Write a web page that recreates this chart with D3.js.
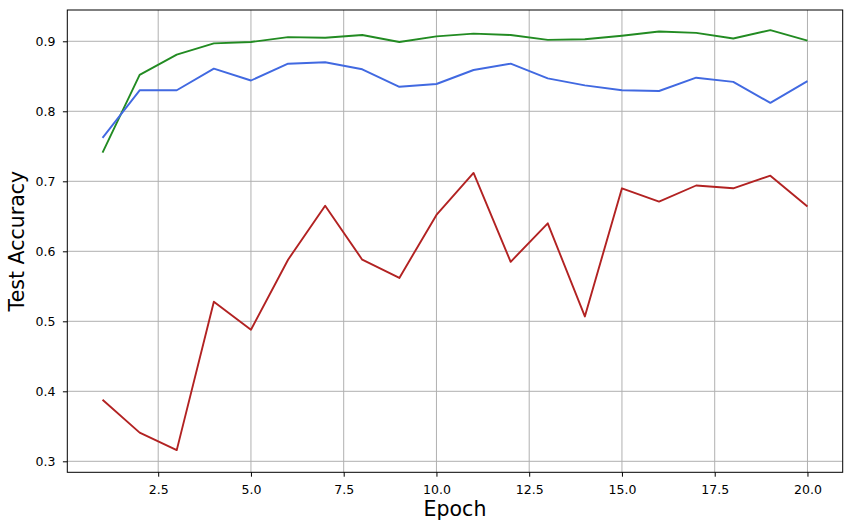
<!DOCTYPE html>
<html>
  <head>
    <meta charset="UTF-8" />
    <script src="https://cdnjs.cloudflare.com/ajax/libs/d3/7.8.5/d3.min.js"></script>
    <style>
      body { margin: 0; background: #fff; }
      text { font-family: "DejaVu Sans", sans-serif; fill: #000; }
      .grid line { stroke: #b0b0b0; stroke-width: 1; }
      .axis path.domain { display: none; }
      .axis line { stroke: #000; }
    </style>
  </head>
  <body>
    <svg width="852" height="531"></svg>
    <script>
      const epochs = d3.range(1, 21);
      const xTicks = [2.5, 5.0, 7.5, 10.0, 12.5, 15.0, 17.5, 20.0];
      const yTicks = [0.3, 0.4, 0.5, 0.6, 0.7, 0.8, 0.9];

      const greenAcc = [0.741, 0.852, 0.881, 0.897, 0.899, 0.906, 0.905, 0.909, 0.899, 0.907,
                        0.911, 0.909, 0.902, 0.903, 0.908, 0.914, 0.912, 0.904, 0.916, 0.901];
      const blueAcc = [0.762, 0.830, 0.830, 0.861, 0.844, 0.868, 0.870, 0.860, 0.835, 0.839,
                       0.859, 0.868, 0.847, 0.837, 0.830, 0.829, 0.848, 0.842, 0.812, 0.843];
      const redAcc = [0.388, 0.341, 0.316, 0.528, 0.488, 0.588, 0.665, 0.588, 0.562, 0.652,
                      0.712, 0.585, 0.640, 0.507, 0.690, 0.671, 0.694, 0.690, 0.708, 0.664];

      const series = [
        { values: greenAcc, color: "#228b22" },
        { values: blueAcc, color: "#4169e1" },
        { values: redAcc, color: "#b22222" }
      ];

      const plotL = 67.3, plotR = 842.7, plotT = 10, plotB = 472.3;

      const x = d3.scaleLinear().domain([0.05, 20.95]).range([plotL, plotR]);
      const y = d3.scaleLinear().domain([0.2843, 0.9447]).range([plotB, plotT]);

      const svg = d3.select("svg");

      // grid
      const grid = svg.append("g").attr("class", "grid");
      grid.selectAll("line.v").data(xTicks).enter().append("line")
        .attr("x1", d => x(d)).attr("x2", d => x(d))
        .attr("y1", plotT).attr("y2", plotB);
      grid.selectAll("line.h").data(yTicks).enter().append("line")
        .attr("x1", plotL).attr("x2", plotR)
        .attr("y1", d => y(d)).attr("y2", d => y(d));

      const line = d3.line()
        .x((d, i) => x(epochs[i]))
        .y(d => y(d));

      svg.selectAll("path.series").data(series).enter().append("path")
        .attr("class", "series")
        .attr("fill", "none")
        .attr("stroke", d => d.color)
        .attr("stroke-width", 1.9)
        .attr("stroke-linejoin", "round")
        .attr("d", d => line(d.values));

      // axes
      svg.append("g").attr("class", "axis")
        .attr("transform", `translate(0,${plotB})`)
        .call(d3.axisBottom(x).tickValues(xTicks).tickFormat(d3.format(".1f"))
          .tickSize(4.4).tickPadding(8))
        .selectAll("text").style("font-size", "12.5px");

      svg.append("g").attr("class", "axis")
        .attr("transform", `translate(${plotL},0)`)
        .call(d3.axisLeft(y).tickValues(yTicks).tickFormat(d3.format(".1f"))
          .tickSize(4.4).tickPadding(7.5))
        .selectAll("text").style("font-size", "12.5px");

      // frame
      svg.append("rect")
        .attr("x", plotL).attr("y", plotT)
        .attr("width", plotR - plotL).attr("height", plotB - plotT)
        .attr("fill", "none").attr("stroke", "#000").attr("stroke-width", 1);

      svg.append("text")
        .attr("x", (plotL + plotR) / 2).attr("y", 516)
        .attr("text-anchor", "middle")
        .style("font-size", "20.5px")
        .text("Epoch");

      svg.append("text")
        .attr("transform", `translate(24,${(plotT + plotB) / 2}) rotate(-90)`)
        .attr("text-anchor", "middle")
        .style("font-size", "20.5px")
        .text("Test Accuracy");
    </script>
  </body>
</html>
